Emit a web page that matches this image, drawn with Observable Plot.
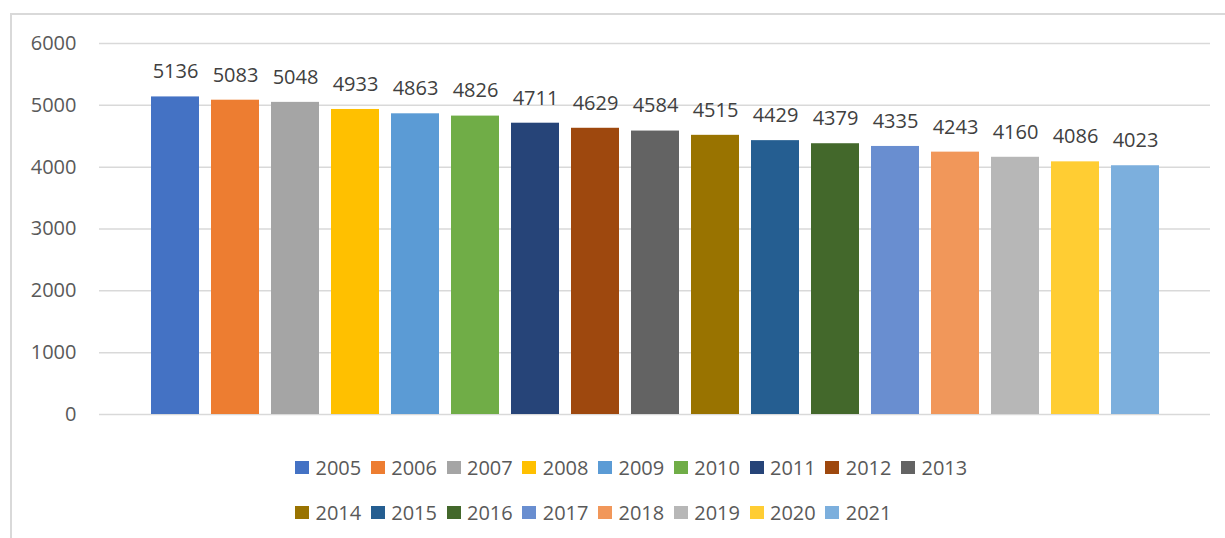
<!DOCTYPE html>
<html>
<head>
<meta charset="utf-8">
<script src="https://cdn.jsdelivr.net/npm/d3@7"></script>
<script src="https://cdn.jsdelivr.net/npm/@observablehq/plot@0.6"></script>
<style>
  html, body { margin: 0; padding: 0; background: #fff; }
  #wrap { position: relative; width: 1225px; height: 538px; overflow: hidden; font-family: "Open Sans", sans-serif; }
  #frame { position: absolute; left: 10px; top: 13px; width: 1230px; height: 540px;
           border-left: 2px solid #d9d9d9; border-top: 2px solid #d9d9d9; box-sizing: border-box; }
  #chart { position: absolute; left: 0; top: 0; }
  #legend { position: absolute; left: 295px; top: 445px; width: 700px; }
  .lg-swatches-wrap { display: flex; flex-wrap: wrap; align-items: center; min-height: 0 !important; margin: 0 !important; }
  .lg-swatch { display: inline-flex; align-items: center; height: 45px; margin-right: 9.5px !important; }
  .lg-swatch > svg { margin-right: 6.5px !important; }
</style>
</head>
<body>
<div id="wrap">
  <div id="frame"></div>
  <div id="chart"></div>
  <div id="legend"></div>
</div>
<script>
const years = ["2005","2006","2007","2008","2009","2010","2011","2012","2013","2014","2015","2016","2017","2018","2019","2020","2021"];
const values = [5136,5083,5048,4933,4863,4826,4711,4629,4584,4515,4429,4379,4335,4243,4160,4086,4023];
const colors = ["#4472C4","#ED7D31","#A5A5A5","#FFC000","#5B9BD5","#70AD47","#264478","#9E480E","#636363","#997300","#255E91","#43682B","#698ED0","#F1975A","#B7B7B7","#FFCD33","#7CAFDD"];
const yTicks = [0,1000,2000,3000,4000,5000,6000];

const data = years.map((y, i) => ({year: y, value: values[i]}));

const chart = Plot.plot({
  width: 1225,
  height: 440,
  marginLeft: 99,
  marginRight: 15,
  marginTop: 43,
  marginBottom: 26,
  style: {fontFamily: "Open Sans, sans-serif", fontSize: "20px", background: "transparent"},
  x: {type: "band", domain: years, paddingInner: 0.2, paddingOuter: 0.858, axis: null},
  y: {domain: [0, 6000], ticks: yTicks, label: null},
  color: {domain: years, range: colors},
  marks: [
    Plot.gridY(yTicks, {stroke: "#d9d9d9", strokeOpacity: 1, strokeWidth: 1.5}),
    Plot.axisY(yTicks, {tickSize: 0, tickPadding: 23, tickFormat: d => String(d), fill: "#595959", fontSize: 20, label: null}),
    Plot.barY(data, {x: "year", y: "value", fill: "year"}),
    Plot.text(data, {x: "year", y: "value", text: d => String(d.value), dy: -25, fill: "#404040", fontSize: 20})
  ]
});
document.getElementById("chart").appendChild(chart);

const legend = Plot.legend({
  color: {domain: years, range: colors},
  legend: "swatches",
  className: "lg",
  swatchWidth: 14,
  swatchHeight: 13,
  style: {fontFamily: "Open Sans, sans-serif", fontSize: "20px", color: "#595959"}
});
document.getElementById("legend").appendChild(legend);
</script>
</body>
</html>
